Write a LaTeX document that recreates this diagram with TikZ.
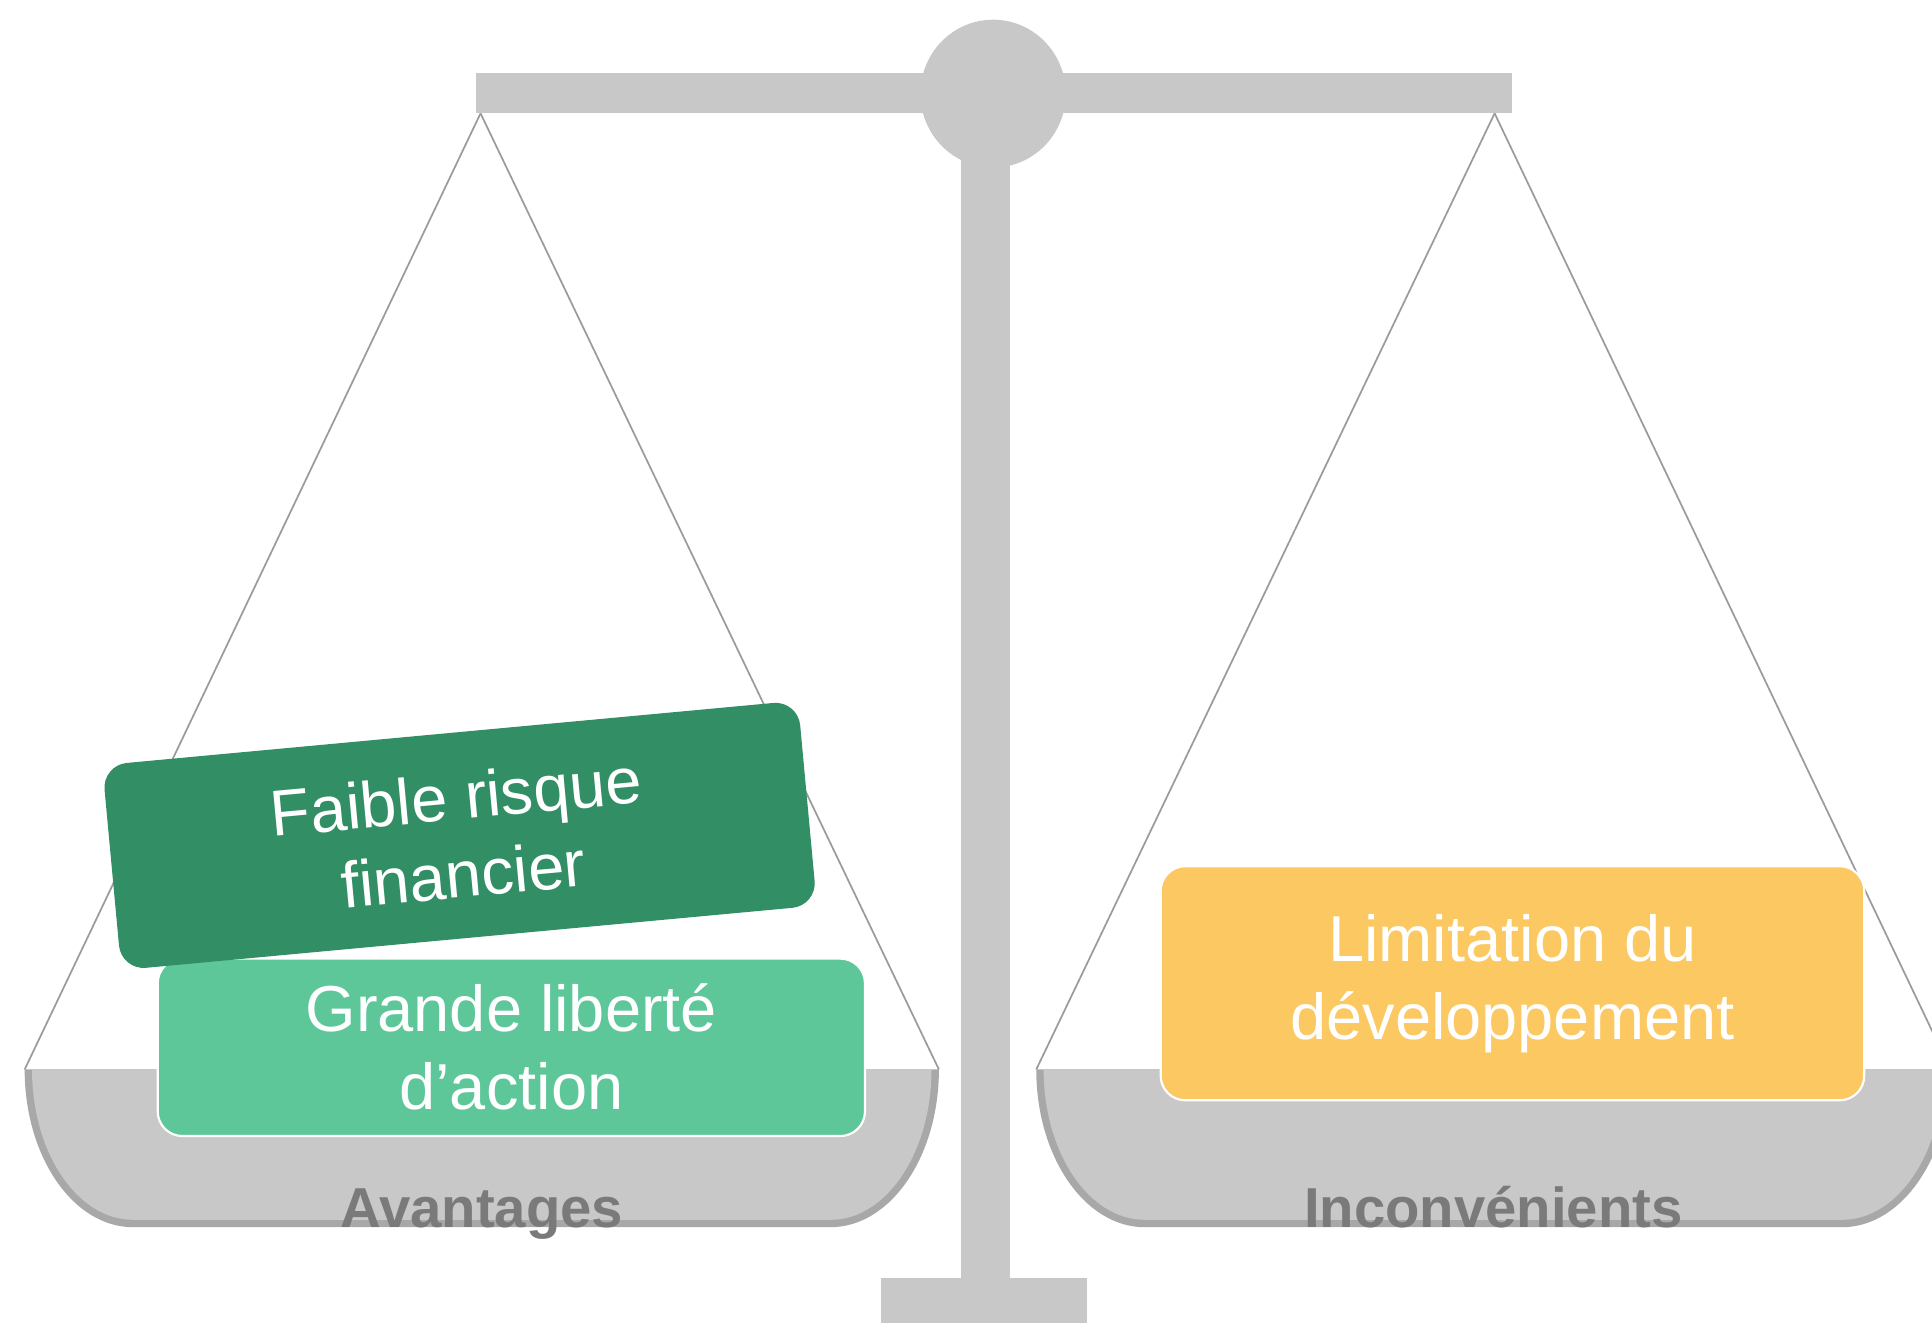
\documentclass[tikz,border=0pt]{standalone}
\usepackage{fontspec}
\setmainfont{Liberation Sans}
\usetikzlibrary{positioning}
\definecolor{scalegray}{RGB}{200,200,200}
\definecolor{pangray}{RGB}{168,168,168}
\definecolor{stringgray}{RGB}{155,155,155}
\definecolor{labelgray}{RGB}{122,122,122}
\definecolor{darkgreen}{RGB}{50,142,101}
\definecolor{lightgreen}{RGB}{94,199,154}
\definecolor{sunyellow}{RGB}{251,200,98}

\begin{document}
\begin{tikzpicture}[
  box/.style={rounded corners=.2cm, text=white, align=center, font=\fontsize{15}{18}\selectfont},
  rope/.style={draw=stringgray, line width=.4pt},
  label/.style={text=labelgray, anchor=base, font=\bfseries\fontsize{13}{15}\selectfont}]
\useasboundingbox (0,0) rectangle (15.68,10.74);

\coordinate(PL) at (3.90,9.82);
\coordinate(PR) at (12.13,9.82);

\begin{scope}[xshift=3.91cm]
\coordinate(L1) at (-3.71,2.06);
\coordinate(L2) at (3.71,2.06);
\fill[pangray](-3.71,2.06) arc[start angle=180, end angle=270, x radius=.88, y radius=1.28] -- (2.83,.78) arc[start angle=270, end angle=360, x radius=.88, y radius=1.28] -- cycle;
\fill[scalegray](-3.65,2.06) arc[start angle=180, end angle=270, x radius=.82, y radius=1.22] -- (2.83,.84) arc[start angle=270, end angle=360, x radius=.82, y radius=1.22] -- cycle;
\node[label](AV) at (0,.78){Avantages};
\end{scope}

\begin{scope}[xshift=12.12cm]
\coordinate(R1) at (-3.71,2.06);
\coordinate(R2) at (3.71,2.06);
\fill[pangray](-3.71,2.06) arc[start angle=180, end angle=270, x radius=.88, y radius=1.28] -- (2.83,.78) arc[start angle=270, end angle=360, x radius=.88, y radius=1.28] -- cycle;
\fill[scalegray](-3.65,2.06) arc[start angle=180, end angle=270, x radius=.82, y radius=1.22] -- (2.83,.84) arc[start angle=270, end angle=360, x radius=.82, y radius=1.22] -- cycle;
\node[label](IN) at (0,.78){Inconvénients};
\end{scope}

\draw[rope](PL)--(L1);
\draw[rope](PL)--(L2);
\draw[rope](PR)--(R1);
\draw[rope](PR)--(R2);

\fill[scalegray](3.86,9.82) rectangle (12.27,10.15);
\fill[scalegray](8.06,9.98) ellipse (.59 and .60);
\fill[scalegray](7.80,.37) rectangle (8.20,9.98);
\fill[scalegray](7.15,0) rectangle (8.82,.37);

\node[box, fill=lightgreen, draw=white, line width=.5pt, minimum width=5.74cm, minimum height=1.44cm](GL) at (4.15,2.24){Grande liberté\\d’action};
\node[box, fill=darkgreen, rotate=5.3, minimum width=5.67cm, minimum height=1.67cm](FR) at (3.73,3.96){Faible risque\\financier};
\node[box, fill=sunyellow, draw=white, line width=.5pt, minimum width=5.71cm, minimum height=1.90cm](LD) at (12.275,2.76){Limitation du\\développement};
\end{tikzpicture}
\end{document}
